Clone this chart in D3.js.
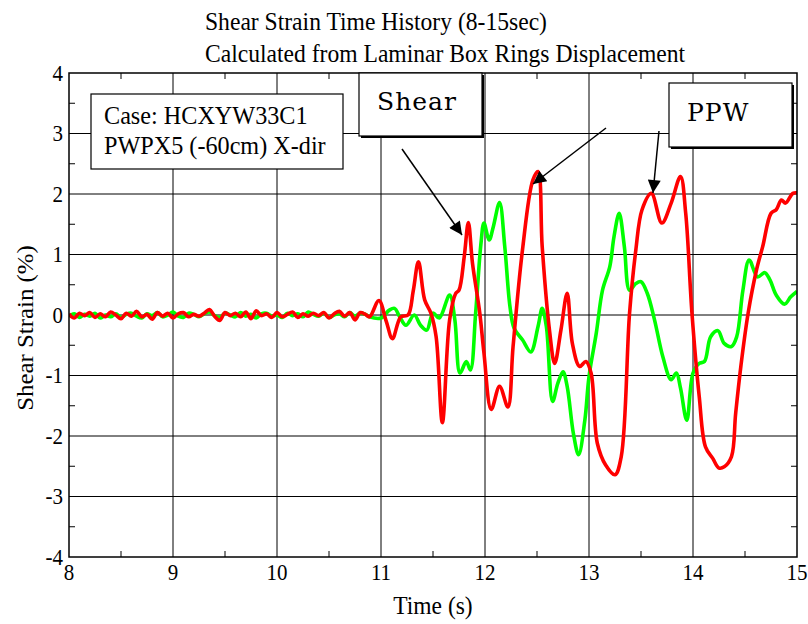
<!DOCTYPE html>
<html>
<head>
<meta charset="utf-8">
<script src="https://cdn.jsdelivr.net/npm/d3@7/dist/d3.min.js"></script>
<style>
  html, body { margin: 0; padding: 0; background: #fff; }
  svg { display: block; }
  text { font-family: "Liberation Serif", "Times New Roman", serif; fill: #000; }
</style>
</head>
<body>
<svg id="chart" width="808" height="624"></svg>
<script>
// Title lines
const titleLines = ["Shear Strain Time History (8-15sec)", "Calculated from Laminar Box Rings Displacement"];
const xLabel = "Time (s)";
const yLabel = "Shear Strain (%)";
const caseLines = ["Case: HCXYW33C1", "PWPX5 (-60cm) X-dir"];

// Axis ticks
const xTicks = [8, 9, 10, 11, 12, 13, 14, 15];
const yTicks = [-4, -3, -2, -1, 0, 1, 2, 3, 4];
const xMinor = [8.5, 9.5, 10.5, 11.5, 12.5, 13.5, 14.5];
const yMinor = [-3.5, -2.5, -1.5, -0.5, 0.5, 1.5, 2.5, 3.5];

// Quiet part of the record (8 - 10.85 s), sampled every 0.05 s
const quietTime = [8.00,8.05,8.10,8.15,8.20,8.25,8.30,8.35,8.40,8.45,8.50,8.55,8.60,8.65,8.70,8.75,8.80,8.85,8.90,8.95,
  9.00,9.05,9.10,9.15,9.20,9.25,9.30,9.35,9.40,9.45,9.50,9.55,9.60,9.65,9.70,9.75,9.80,9.85,9.90,9.95,
  10.00,10.05,10.10,10.15,10.20,10.25,10.30,10.35,10.40,10.45,10.50,10.55,10.60,10.65,10.70,10.75,10.80,10.85];
const quietPPW = [0.02,-0.05,0.03,-0.01,0.04,-0.04,0.02,-0.03,0.05,0.00,-0.06,0.03,-0.02,0.06,-0.03,0.01,-0.07,0.04,-0.02,0.03,
  -0.05,0.02,0.04,-0.03,0.01,-0.02,0.03,0.09,-0.02,-0.09,0.04,-0.01,0.03,-0.03,0.05,-0.06,0.07,-0.01,0.02,-0.04,
  0.04,-0.03,0.01,0.05,-0.04,0.02,-0.02,0.03,-0.01,0.04,-0.05,0.02,0.06,-0.02,0.04,-0.08,0.04,0.01];
const quietShear = [-0.03,0.02,-0.04,0.01,-0.02,0.03,-0.05,0.00,-0.03,0.02,-0.04,0.01,0.03,-0.02,-0.05,0.02,-0.01,0.04,-0.03,0.00,
  0.05,-0.02,-0.04,0.03,0.01,-0.03,0.02,0.05,-0.01,-0.04,0.03,0.00,-0.03,0.04,-0.02,0.01,-0.05,0.02,0.03,-0.02,
  0.00,-0.04,0.03,-0.01,0.02,-0.03,0.05,0.01,-0.02,0.03,-0.04,0.00,0.02,-0.03,0.04,-0.02,0.03,0.01];

// Strong-motion part, PPW trace (red)
const ppwTime = [10.89,10.98,11.05,11.11,11.19,11.26,11.31,11.36,11.42,11.48,11.53,11.59,11.66,11.72,11.75,11.80,11.84,11.88,11.95,11.99,
  12.06,12.14,12.22,12.27,12.36,12.46,12.51,12.55,12.62,12.67,12.73,12.79,12.84,12.91,12.97,13.02,13.08,13.16,13.25,13.31,
  13.39,13.45,13.51,13.60,13.70,13.79,13.88,13.93,13.99,14.06,14.12,14.19,14.25,14.30,14.37,14.41,14.46,14.53,14.61,14.67,
  14.75,14.80,14.85,14.89,14.96,15.00];
const ppwStrain = [-0.03,0.24,-0.10,-0.39,-0.03,0.00,0.40,0.88,0.25,0.03,-0.36,-1.78,-0.08,0.36,0.41,0.96,1.53,0.85,0.03,-0.63,
  -1.56,-1.18,-1.52,-0.52,1.07,2.23,2.37,1.13,-0.25,-0.80,-0.25,0.36,-0.47,-0.85,-0.77,-0.96,-2.12,-2.48,-2.64,-2.34,
  0.03,1.07,1.74,2.01,1.52,1.85,2.29,1.68,0.03,-1.35,-2.18,-2.37,-2.53,-2.51,-2.34,-1.63,-0.85,0.03,0.74,1.13,
  1.68,1.74,1.90,1.85,2.01,2.02];

// Strong-motion part, Shear trace (green)
const shearTime = [10.89,11.00,11.08,11.13,11.18,11.24,11.32,11.38,11.44,11.50,11.56,11.66,11.71,11.76,11.82,11.86,11.91,11.96,11.99,12.04,
  12.08,12.14,12.19,12.24,12.28,12.36,12.44,12.51,12.55,12.59,12.65,12.70,12.75,12.79,12.85,12.90,12.96,13.00,13.07,13.13,
  13.20,13.24,13.29,13.34,13.39,13.45,13.50,13.56,13.63,13.71,13.79,13.84,13.88,13.94,14.00,14.06,14.11,14.17,14.24,14.30,
  14.37,14.42,14.48,14.54,14.62,14.69,14.74,14.80,14.88,14.94,15.00];
const shearStrain = [-0.03,-0.05,0.08,0.11,-0.03,-0.17,0.00,-0.17,-0.25,0.03,-0.05,0.33,-0.08,-0.96,-0.77,-0.91,0.03,1.16,1.52,1.24,
  1.46,1.86,1.13,0.14,-0.22,-0.41,-0.61,-0.19,0.11,-0.19,-1.43,-1.13,-0.94,-1.18,-1.96,-2.31,-1.74,-1.02,-0.30,0.41,
  0.80,1.29,1.68,1.13,0.41,0.52,0.55,0.36,-0.08,-0.69,-1.07,-0.96,-1.21,-1.74,-0.96,-0.80,-0.77,-0.36,-0.26,-0.47,
  -0.52,-0.36,0.41,0.91,0.63,0.70,0.58,0.33,0.18,0.30,0.39];

const svg = d3.select("#chart");
const plotLeft = 69, plotRight = 797, plotTop = 73, plotBottom = 557;
const stretch = 1.08; // serif text is set slightly tall

const x = d3.scaleLinear().domain([8, 15]).range([plotLeft, plotRight]);
const y = d3.scaleLinear().domain([-4, 4]).range([plotBottom, plotTop]);

// Grid
const grid = svg.append("g");
grid.selectAll("line.gx").data(xTicks.slice(1, -1)).join("line")
  .attr("x1", d => x(d)).attr("x2", d => x(d)).attr("y1", plotTop).attr("y2", plotBottom)
  .attr("stroke", "#000").attr("stroke-width", 1);
grid.selectAll("line.gy").data(yTicks.slice(1, -1)).join("line")
  .attr("y1", d => y(d)).attr("y2", d => y(d)).attr("x1", plotLeft).attr("x2", plotRight)
  .attr("stroke", "#000").attr("stroke-width", 1);

// Minor ticks on all four sides
const tl = 6;
const minor = svg.append("g").attr("stroke", "#000").attr("stroke-width", 1);
xMinor.forEach(t => {
  minor.append("line").attr("x1", x(t)).attr("x2", x(t)).attr("y1", plotBottom).attr("y2", plotBottom - tl);
  minor.append("line").attr("x1", x(t)).attr("x2", x(t)).attr("y1", plotTop).attr("y2", plotTop + tl);
});
yMinor.forEach(t => {
  minor.append("line").attr("y1", y(t)).attr("y2", y(t)).attr("x1", plotLeft).attr("x2", plotLeft + tl);
  minor.append("line").attr("y1", y(t)).attr("y2", y(t)).attr("x1", plotRight).attr("x2", plotRight - tl);
});

// Traces
const line = d3.line().x(d => x(d[0])).y(d => y(d[1])).curve(d3.curveCatmullRom.alpha(0.5));
const shearPts = quietTime.map((t, i) => [t, quietShear[i]]).concat(shearTime.map((t, i) => [t, shearStrain[i]]));
const ppwPts = quietTime.map((t, i) => [t, quietPPW[i]]).concat(ppwTime.map((t, i) => [t, ppwStrain[i]]));

svg.append("clipPath").attr("id", "plotclip").append("rect")
  .attr("x", plotLeft).attr("y", plotTop).attr("width", plotRight - plotLeft).attr("height", plotBottom - plotTop);
const traces = svg.append("g").attr("clip-path", "url(#plotclip)");
traces.append("path").datum(shearPts).attr("d", line)
  .attr("fill", "none").attr("stroke", "#00ff00").attr("stroke-width", 3.6).attr("stroke-linejoin", "round");
traces.append("path").datum(ppwPts).attr("d", line)
  .attr("fill", "none").attr("stroke", "#ff0000").attr("stroke-width", 3.6).attr("stroke-linejoin", "round");

// Frame
svg.append("rect").attr("x", plotLeft).attr("y", plotTop).attr("width", plotRight - plotLeft).attr("height", plotBottom - plotTop)
  .attr("fill", "none").attr("stroke", "#000").attr("stroke-width", 1.5);

// Serif text helper: positioned by transform so glyphs can be stretched vertically
function label(parent, tx, ty, size, str, anchor, rot) {
  return parent.append("text")
    .attr("transform", `translate(${tx},${ty}) scale(1,${stretch})` + (rot ? ` rotate(${rot})` : ""))
    .attr("text-anchor", anchor || "start")
    .style("font-size", size + "px").text(str);
}

// Axes tick labels
const xt = svg.append("g");
xTicks.forEach(d => label(xt, x(d), 580, 21, d, "middle"));
const yt = svg.append("g");
yTicks.forEach(d => label(yt, 63, y(d) + 7.5, 21, d, "end"));

// Axis titles
label(svg, 433, 614, 23.5, xLabel, "middle");
label(svg, 33, 328, 23, yLabel, "middle", -90);

// Title
titleLines.forEach((t, i) => label(svg, 205, 30 + i * 32, 23.6, t));

// Case note box
svg.append("rect").attr("x", 91).attr("y", 94).attr("width", 252).attr("height", 75)
  .attr("fill", "#fff").attr("stroke", "#000").attr("stroke-width", 1.2);
caseLines.forEach((t, i) => label(svg, 104, 124 + i * 30, 24.2, t));

// Callout boxes with shadow edge
function callout(bx, by, bw, bh, str, tx, ty) {
  svg.append("rect").attr("x", bx + 2).attr("y", by + 2).attr("width", bw).attr("height", bh).attr("fill", "#000");
  svg.append("rect").attr("x", bx).attr("y", by).attr("width", bw).attr("height", bh)
    .attr("fill", "#fff").attr("stroke", "#000").attr("stroke-width", 1.2);
  svg.append("text").attr("x", tx).attr("y", ty)
    .style("font-family", "'DejaVu Serif', serif").style("font-size", "25px")
    .style("letter-spacing", "1px").text(str);
}
callout(359, 73, 123, 63, "Shear", 377, 110);
callout(669, 83, 123, 64, "PPW", 687, 121);

// Arrows
const defs = svg.append("defs");
defs.append("marker").attr("id", "head").attr("viewBox", "0 0 10 10")
  .attr("refX", 10).attr("refY", 5).attr("markerWidth", 15).attr("markerHeight", 13)
  .attr("markerUnits", "userSpaceOnUse").attr("orient", "auto")
  .append("path").attr("d", "M0,0 L10,5 L0,10 Z").attr("fill", "#000");
const arrows = [[402, 149, 462, 235], [606, 128, 533, 184], [659, 131, 653, 193]];
svg.append("g").selectAll("line").data(arrows).join("line")
  .attr("x1", d => d[0]).attr("y1", d => d[1]).attr("x2", d => d[2]).attr("y2", d => d[3])
  .attr("stroke", "#000").attr("stroke-width", 1.5).attr("marker-end", "url(#head)");
</script>
</body>
</html>
